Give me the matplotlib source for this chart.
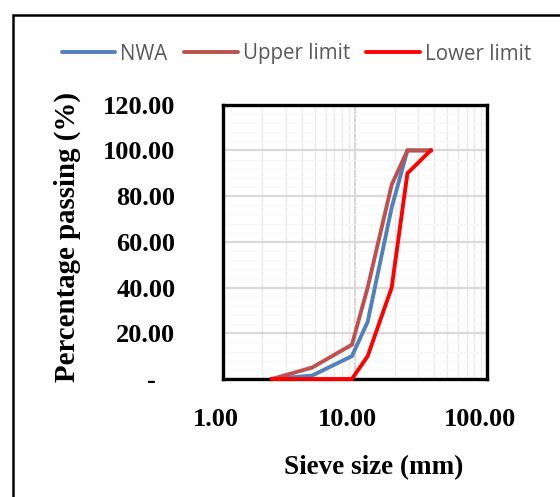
import matplotlib
matplotlib.use("Agg")
import matplotlib.pyplot as plt
from matplotlib.ticker import FixedLocator, MultipleLocator, LogLocator, NullFormatter, FuncFormatter
from matplotlib.patches import Rectangle
from matplotlib.transforms import ScaledTranslation

# Data
sieve_sizes = [2.36, 4.75, 9.5, 12.5, 19, 25, 37.5]
nwa = [0, 1.5, 10, 25, 75, 100, 100]
upper_limit = [0, 5, 15, 40, 85, 100, 100]
lower_limit = [0, 0, 0, 10, 40, 90, 100]
series_names = ["NWA", "Upper limit", "Lower limit"]
y_ticks = [0, 20, 40, 60, 80, 100, 120]
x_ticks = [1, 10, 100]

W, H = 560, 497
fig = plt.figure(figsize=(W / 100, H / 100), dpi=100)

ax = fig.add_axes([222.7 / W, 1 - 379 / H, (487 - 222.7) / W, (379 - 104.7) / H])
ax.set_xscale("log")
ax.set_xlim(1, 100)
ax.set_ylim(0, 120)

colors = ["#4F81BD", "#C0504D", "#FF0000"]
for vals, name, c in zip([nwa, upper_limit, lower_limit], series_names, colors):
    ax.plot(sieve_sizes, vals, color=c, lw=2.8, label=name, solid_joinstyle="miter", clip_on=False, zorder=3)

# grid
ax.xaxis.set_major_locator(FixedLocator(x_ticks))
ax.xaxis.set_minor_locator(LogLocator(base=10, subs=range(2, 10)))
ax.xaxis.set_minor_formatter(NullFormatter())
ax.yaxis.set_major_locator(FixedLocator(y_ticks))
ax.yaxis.set_minor_locator(MultipleLocator(4))
ax.grid(which="major", color="#D9D9D9", lw=1.6, zorder=0)
ax.grid(which="minor", axis="x", color="#EAEAEA", lw=1.0, zorder=0)
ax.grid(which="minor", axis="y", color="#F6F6F6", lw=0.8, zorder=0)
ax.set_axisbelow(True)

ax.tick_params(which="both", length=0)
serif = "Liberation Serif"
ax.xaxis.set_major_formatter(FuncFormatter(lambda v, p: f"{v:.2f}"))
ax.yaxis.set_major_formatter(FuncFormatter(lambda v, p: "-   " if v == 0 else f"{v:.2f}"))
ax.tick_params(axis="y", pad=34)
ax.tick_params(axis="x", pad=21)
shift = ScaledTranslation(-7 / 100, 0, fig.dpi_scale_trans)
for lab in ax.get_xticklabels():
    lab.set_transform(lab.get_transform() + shift)
for lab in ax.get_xticklabels() + ax.get_yticklabels():
    lab.set_fontfamily(serif)
    lab.set_fontweight("bold")
    lab.set_fontsize(19)

for s in ax.spines.values():
    s.set_linewidth(2.4)
    s.set_color("black")

fig.text(67 / W, 1 - 237 / H, "Percentage passing (%)", rotation=90, ha="center", va="center",
         fontfamily=serif, fontweight="bold", fontsize=20.8)
fig.text(374 / W, 1 - 468 / H, "Sieve size (mm)", ha="center", va="center",
         fontfamily=serif, fontweight="bold", fontsize=19.5)

leg = fig.legend(loc="center", bbox_to_anchor=(296.5 / W, 1 - 54 / H), ncol=3, frameon=False,
                 handlelength=2.6, handletextpad=0.25, columnspacing=0.8,
                 prop={"family": "Open Sans", "size": 14.8})
for t in leg.get_texts():
    t.set_color("#595959")
for l in leg.get_lines():
    l.set_linewidth(2.8)
    l.set_solid_capstyle("round")

fig.patches.append(Rectangle((12.5 / W, -0.1), 1.2, (1 - 15.3 / H) + 0.1, transform=fig.transFigure,
                             fill=False, edgecolor="black", lw=1.8))

fig.savefig("out.png", dpi=100)
